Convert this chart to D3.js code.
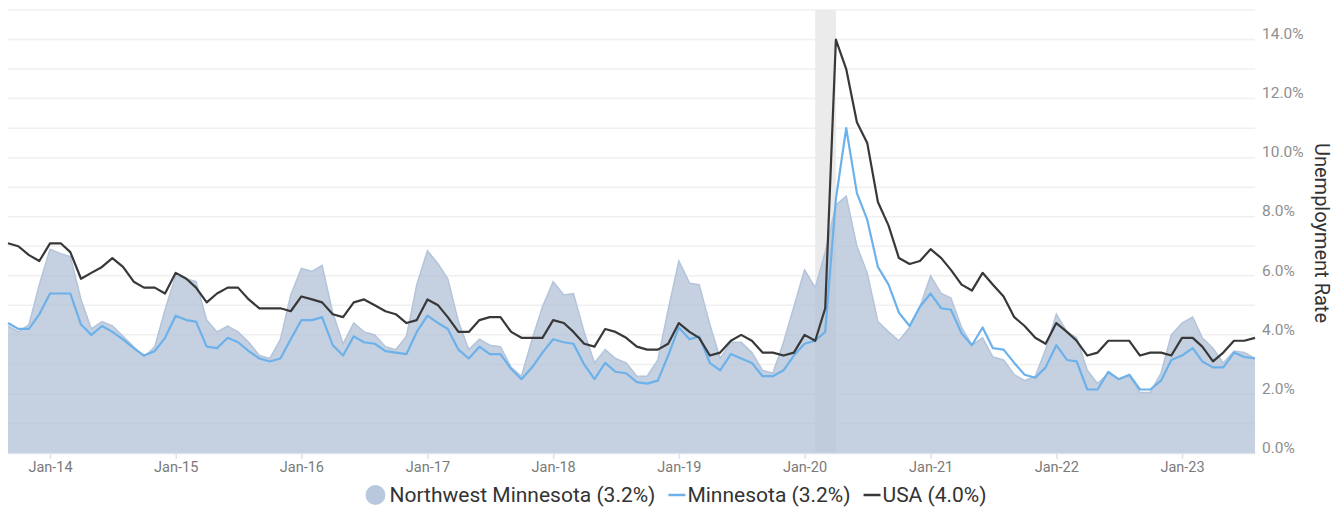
<!DOCTYPE html>
<html>
<head>
<meta charset="utf-8">
<script src="https://cdn.jsdelivr.net/npm/d3@7"></script>
<style>
  body { margin: 0; background: #fff; }
  svg { display: block; font-family: Roboto, "Liberation Sans", sans-serif; }
</style>
</head>
<body>
<div id="chart"></div>
<script>
// monthly unemployment rate, Sep 2013 .. Aug 2023
var firstMonth = new Date(2013, 8, 1);
var lastMonth = new Date(2023, 7, 1);

var nwMinnesota = [
    4.3, 4.1, 4.35, 5.7,
    6.9, 6.75, 6.65, 5.2, 4.2, 4.45, 4.3, 3.95, 3.6, 3.25, 3.6, 4.85,
    6.0, 5.9, 5.8, 4.5, 4.1, 4.3, 4.1, 3.75, 3.3, 3.2, 3.85, 5.35,
    6.25, 6.15, 6.35, 4.75, 3.7, 4.4, 4.1, 4.0, 3.6, 3.5, 3.95, 5.7,
    6.85, 6.4, 5.9, 4.45, 3.5, 3.85, 3.65, 3.6, 2.9, 2.6, 3.85, 4.95,
    5.8, 5.35, 5.4, 4.1, 3.05, 3.5, 3.2, 3.05, 2.6, 2.6, 3.15, 4.85,
    6.5, 5.75, 5.7, 4.35, 3.2, 3.75, 3.75, 3.4, 2.8, 2.7, 3.75, 4.95,
    6.2, 5.6, 6.8, 8.4, 8.7, 7.0, 6.1, 4.45, 4.1, 3.8, 4.25, 4.95,
    6.0, 5.4, 5.25, 4.25, 3.65, 3.9, 3.25, 3.15, 2.65, 2.45, 2.6, 3.5,
    4.7, 4.1, 3.9, 2.8, 2.35, 2.7, 2.5, 2.6, 2.05, 2.05, 2.7, 4.0,
    4.4, 4.6, 3.9, 3.55, 3.05, 3.45, 3.4, 3.2
];

var minnesota = [
    4.4, 4.2, 4.2, 4.7,
    5.4, 5.4, 5.4, 4.35, 4.0, 4.3, 4.1, 3.85, 3.55, 3.3, 3.45, 3.9,
    4.65, 4.5, 4.45, 3.6, 3.55, 3.9, 3.75, 3.45, 3.2, 3.1, 3.2, 3.85,
    4.5, 4.5, 4.6, 3.65, 3.3, 3.95, 3.75, 3.7, 3.45, 3.4, 3.35, 4.1,
    4.65, 4.4, 4.2, 3.5, 3.2, 3.6, 3.35, 3.35, 2.85, 2.5, 2.9, 3.4,
    3.85, 3.75, 3.7, 3.0, 2.5, 3.05, 2.75, 2.7, 2.4, 2.35, 2.45, 3.3,
    4.25, 3.85, 3.95, 3.05, 2.8, 3.35, 3.2, 3.05, 2.6, 2.6, 2.8, 3.3,
    3.7, 3.8, 4.1, 8.6, 11.0, 8.8, 7.9, 6.3, 5.7, 4.75, 4.3, 4.95,
    5.4, 4.9, 4.85, 4.05, 3.65, 4.25, 3.55, 3.5, 3.05, 2.65, 2.55, 2.9,
    3.65, 3.15, 3.1, 2.15, 2.15, 2.75, 2.5, 2.65, 2.15, 2.15, 2.45, 3.15,
    3.3, 3.55, 3.1, 2.9, 2.9, 3.4, 3.25, 3.2
];

var usa = [
    7.1, 7.0, 6.7, 6.5,
    7.1, 7.1, 6.8, 5.9, 6.1, 6.3, 6.6, 6.3, 5.8, 5.6, 5.6, 5.4,
    6.1, 5.9, 5.6, 5.1, 5.4, 5.6, 5.6, 5.2, 4.9, 4.9, 4.9, 4.8,
    5.3, 5.2, 5.1, 4.7, 4.6, 5.1, 5.2, 5.0, 4.8, 4.7, 4.4, 4.5,
    5.2, 5.0, 4.6, 4.1, 4.1, 4.5, 4.6, 4.6, 4.1, 3.9, 3.9, 3.9,
    4.5, 4.4, 4.1, 3.7, 3.6, 4.2, 4.1, 3.9, 3.6, 3.5, 3.5, 3.7,
    4.4, 4.1, 3.9, 3.3, 3.4, 3.8, 4.0, 3.8, 3.4, 3.4, 3.3, 3.4,
    4.0, 3.8, 4.9, 14.0, 13.0, 11.2, 10.5, 8.5, 7.7, 6.6, 6.4, 6.5,
    6.9, 6.6, 6.2, 5.7, 5.5, 6.1, 5.7, 5.3, 4.6, 4.3, 3.9, 3.7,
    4.4, 4.1, 3.8, 3.3, 3.4, 3.8, 3.8, 3.8, 3.3, 3.4, 3.4, 3.3,
    3.9, 3.9, 3.6, 3.1, 3.4, 3.8, 3.8, 3.9
];

var recession = [new Date(2020, 1, 1), new Date(2020, 3, 1)];
var legendItems = ["Northwest Minnesota (3.2%)", "Minnesota (3.2%)", "USA (4.0%)"];
var yTicks = [0, 2, 4, 6, 8, 10, 12, 14];

var months = d3.timeMonth.range(firstMonth, d3.timeMonth.offset(lastMonth, 1));
var rows = months.map(function (m, i) {
    return { date: m, nw: nwMinnesota[i], mn: minnesota[i], us: usa[i] };
});

var width = 1335, height = 510;
var plotLeft = 8, plotRight = 1255, plotTop = 10, plotBottom = 453;

var svg = d3.select("#chart").append("svg")
    .attr("width", width)
    .attr("height", height);

var x = d3.scaleTime()
    .domain([firstMonth, lastMonth])
    .range([plotLeft, plotRight]);

var y = d3.scaleLinear()
    .domain([0, 15])
    .range([plotBottom, plotTop]);

// gridlines every 1%
svg.append("g")
    .selectAll("line")
    .data(d3.range(0, 16))
    .enter().append("line")
    .attr("x1", plotLeft)
    .attr("x2", plotRight)
    .attr("y1", function (d) { return y(d); })
    .attr("y2", function (d) { return y(d); })
    .attr("stroke", "#f0f0f0")
    .attr("stroke-width", 1.5);

// recession band
svg.append("rect")
    .attr("x", x(recession[0]))
    .attr("y", plotTop)
    .attr("width", x(recession[1]) - x(recession[0]))
    .attr("height", plotBottom - plotTop)
    .attr("fill", "#ebebeb");

var area = d3.area()
    .x(function (d) { return x(d.date); })
    .y0(y(0))
    .y1(function (d) { return y(d.nw); });

svg.append("path")
    .datum(rows)
    .attr("d", area)
    .attr("fill", "#aebfd6")
    .attr("fill-opacity", 0.72);

svg.append("path")
    .datum(rows)
    .attr("d", d3.line().x(function (d) { return x(d.date); }).y(function (d) { return y(d.nw); }))
    .attr("fill", "none")
    .attr("stroke", "#b4c4da")
    .attr("stroke-width", 1.5);

svg.append("path")
    .datum(rows)
    .attr("d", d3.line().x(function (d) { return x(d.date); }).y(function (d) { return y(d.mn); }))
    .attr("fill", "none")
    .attr("stroke", "#6cb1ea")
    .attr("stroke-width", 2.2)
    .attr("stroke-linejoin", "round");

svg.append("path")
    .datum(rows)
    .attr("d", d3.line().x(function (d) { return x(d.date); }).y(function (d) { return y(d.us); }))
    .attr("fill", "none")
    .attr("stroke", "#383838")
    .attr("stroke-width", 2.2)
    .attr("stroke-linejoin", "round");

// x axis
var xAxis = svg.append("g")
    .attr("transform", "translate(0," + plotBottom + ")")
    .call(d3.axisBottom(x)
        .ticks(d3.timeYear.every(1))
        .tickFormat(d3.timeFormat("%b-%y"))
        .tickSize(6)
        .tickSizeOuter(0)
        .tickPadding(3));
xAxis.select(".domain").attr("stroke", "#dde3ec").attr("stroke-width", 1.5);
xAxis.selectAll(".tick line").attr("stroke", "#dde3ec").attr("stroke-width", 1.5);
xAxis.selectAll(".tick text")
    .attr("fill", "#7a7a7a")
    .style("font-size", "14.5px")
    .style("font-family", "Roboto, sans-serif");

// y axis on the right
var yAxis = svg.append("g")
    .attr("transform", "translate(" + (plotRight + 7) + ",0)")
    .call(d3.axisRight(y)
        .tickValues(yTicks)
        .tickFormat(function (d) { return d.toFixed(1) + "%"; })
        .tickSize(0)
        .tickPadding(0));
yAxis.select(".domain").remove();
yAxis.selectAll(".tick text")
    .attr("dy", "-0.05em")
    .attr("fill", "#8f8f8f")
    .style("font-size", "15.5px")
    .style("font-family", "Roboto, sans-serif");

svg.append("text")
    .attr("transform", "translate(1315,233) rotate(90)")
    .attr("text-anchor", "middle")
    .attr("fill", "#333")
    .style("font-size", "20px")
    .text("Unemployment Rate");

// legend
var legend = svg.append("g").attr("transform", "translate(0,495)");
var items = [];
legendItems.forEach(function (label, i) {
    var g = legend.append("g");
    var pad = i === 0 ? 24 : 19;
    if (i === 0) {
        g.append("circle").attr("cx", 10).attr("cy", 0).attr("r", 10).attr("fill", "#b9c8dc");
    } else {
        g.append("line").attr("x1", 0).attr("x2", 17).attr("y1", 0).attr("y2", 0)
            .attr("stroke", i === 1 ? "#6cb1ea" : "#383838").attr("stroke-width", 2.5);
    }
    var t = g.append("text")
        .attr("x", pad)
        .attr("dy", "0.35em")
        .attr("fill", "#333")
        .style("font-size", "21px")
        .text(label);
    items.push({ g: g, w: pad + t.node().getComputedTextLength() });
});
var gap = 13;
var total = d3.sum(items, function (d) { return d.w; }) + gap * (items.length - 1);
var cx = 676 - total / 2;
items.forEach(function (it) {
    it.g.attr("transform", "translate(" + cx + ",0)");
    cx += it.w + gap;
});
</script>
</body>
</html>
